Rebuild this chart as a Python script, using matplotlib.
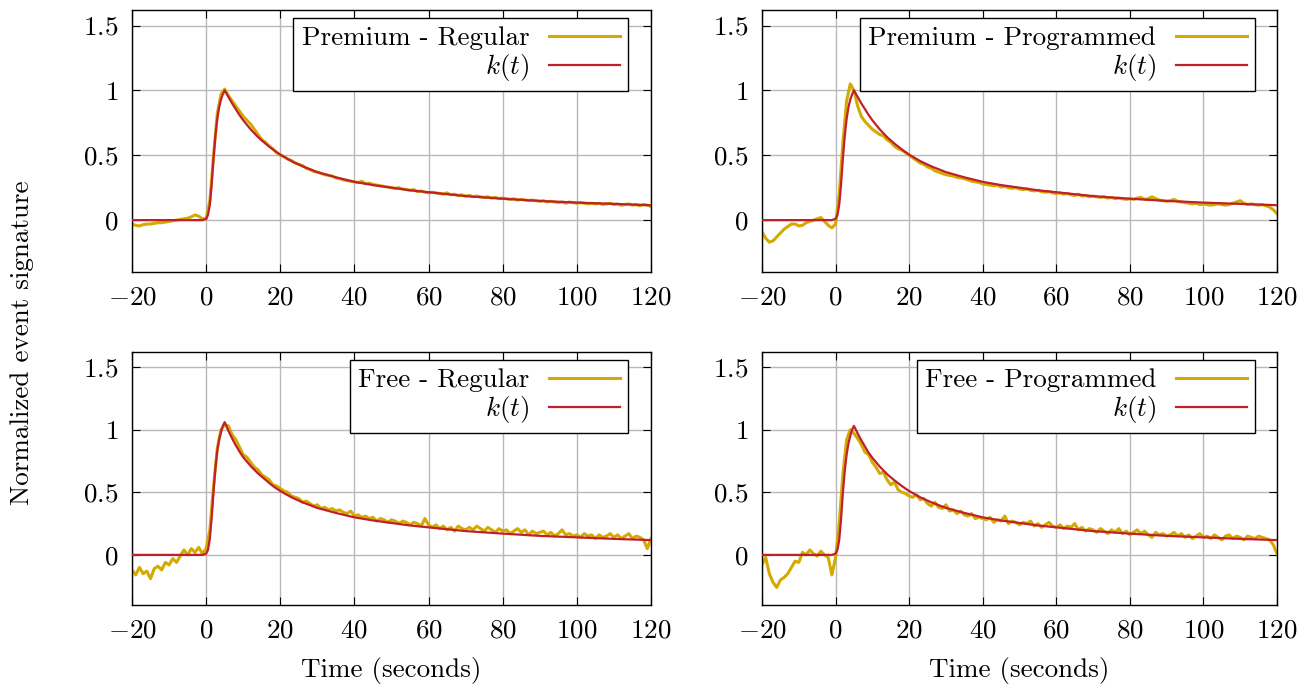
import numpy as np
import matplotlib
matplotlib.use("Agg")
import matplotlib.pyplot as plt

plt.rcParams['font.family'] = 'serif'
plt.rcParams['font.serif'] = ['cmr10']
plt.rcParams['mathtext.fontset'] = 'cm'
plt.rcParams['axes.formatter.use_mathtext'] = True

YELLOW = '#d4aa00'
RED = '#c0202a'

# time axis of the measured signatures (1 s steps)
t_sig = np.arange(-20, 121, 1)

sig_prem_reg = [
    -0.03, -0.04, -0.045, -0.035, -0.03, -0.03, -0.025, -0.02, -0.02, -0.015,
    -0.01, -0.005, 0.0, 0.005, 0.01, 0.015, 0.025, 0.04, 0.03, 0.01,
    0.01, 0.15, 0.5, 0.82, 0.97, 1.01, 0.96, 0.92, 0.88, 0.84,
    0.80, 0.77, 0.74, 0.70, 0.66, 0.62, 0.60, 0.57, 0.55, 0.52,
    0.50, 0.49, 0.47, 0.46, 0.44, 0.43, 0.42, 0.40, 0.39, 0.375,
    0.37, 0.36, 0.35, 0.345, 0.34, 0.325, 0.32, 0.31, 0.305, 0.30,
    0.295, 0.29, 0.30, 0.28, 0.285, 0.275, 0.27, 0.265, 0.26, 0.255,
    0.25, 0.245, 0.25, 0.24, 0.235, 0.23, 0.235, 0.22, 0.225, 0.215,
    0.21, 0.215, 0.21, 0.205, 0.20, 0.21, 0.195, 0.20, 0.19, 0.195,
    0.185, 0.19, 0.18, 0.185, 0.18, 0.175, 0.18, 0.17, 0.175, 0.165,
    0.17, 0.165, 0.16, 0.165, 0.155, 0.16, 0.155, 0.15, 0.155, 0.15,
    0.145, 0.15, 0.14, 0.145, 0.14, 0.135, 0.14, 0.13, 0.14, 0.135,
    0.13, 0.135, 0.13, 0.125, 0.13, 0.125, 0.13, 0.12, 0.125, 0.13,
    0.12, 0.125, 0.115, 0.12, 0.125, 0.115, 0.12, 0.11, 0.12, 0.115,
    0.105,
]

sig_prem_prog = [
    -0.09, -0.14, -0.17, -0.16, -0.13, -0.10, -0.07, -0.05, -0.03, -0.03,
    -0.045, -0.04, -0.02, -0.01, 0.0, 0.01, 0.02, -0.01, -0.04, -0.06,
    -0.03, 0.20, 0.60, 0.92, 1.05, 1.0, 0.88, 0.80, 0.76, 0.73,
    0.70, 0.68, 0.66, 0.65, 0.62, 0.60, 0.57, 0.55, 0.54, 0.52,
    0.50, 0.48, 0.46, 0.44, 0.43, 0.41, 0.40, 0.38, 0.37, 0.36,
    0.35, 0.345, 0.34, 0.33, 0.325, 0.32, 0.31, 0.30, 0.295, 0.29,
    0.28, 0.275, 0.27, 0.265, 0.27, 0.255, 0.26, 0.25, 0.245, 0.25,
    0.24, 0.235, 0.24, 0.23, 0.225, 0.23, 0.22, 0.215, 0.22, 0.21,
    0.205, 0.21, 0.20, 0.205, 0.195, 0.19, 0.20, 0.185, 0.19, 0.18,
    0.185, 0.18, 0.175, 0.18, 0.17, 0.175, 0.165, 0.17, 0.165, 0.16,
    0.165, 0.16, 0.17, 0.175, 0.16, 0.165, 0.18, 0.165, 0.155, 0.15,
    0.145, 0.15, 0.16, 0.145, 0.14, 0.135, 0.13, 0.125, 0.13, 0.12,
    0.125, 0.12, 0.115, 0.12, 0.125, 0.12, 0.115, 0.12, 0.13, 0.14,
    0.15, 0.13, 0.12, 0.125, 0.12, 0.115, 0.12, 0.11, 0.10, 0.08,
    0.05,
]

sig_free_reg = [
    -0.12, -0.16, -0.10, -0.15, -0.13, -0.19, -0.11, -0.09, -0.12, -0.06,
    -0.08, -0.03, -0.06, -0.01, 0.04, 0.0, 0.05, 0.02, 0.06, 0.01,
    0.05, 0.20, 0.55, 0.85, 1.0, 1.04, 1.03, 0.96, 0.92, 0.86,
    0.80, 0.78, 0.74, 0.70, 0.68, 0.64, 0.62, 0.60, 0.56, 0.55,
    0.53, 0.51, 0.50, 0.47, 0.46, 0.45, 0.42, 0.43, 0.41, 0.39,
    0.40, 0.37, 0.38, 0.36, 0.37, 0.35, 0.36, 0.34, 0.33, 0.35,
    0.31, 0.32, 0.30, 0.31, 0.29, 0.30, 0.27, 0.29, 0.28, 0.26,
    0.28, 0.27, 0.25, 0.27, 0.26, 0.24, 0.26, 0.25, 0.23, 0.29,
    0.24, 0.22, 0.24, 0.21, 0.23, 0.20, 0.22, 0.19, 0.23, 0.21,
    0.20, 0.22, 0.20, 0.23, 0.21, 0.19, 0.22, 0.20, 0.18, 0.21,
    0.19, 0.20, 0.17, 0.19, 0.21, 0.18, 0.20, 0.16, 0.19, 0.17,
    0.18, 0.19, 0.16, 0.18, 0.15, 0.17, 0.20, 0.16, 0.17, 0.15,
    0.16, 0.14, 0.17, 0.15, 0.16, 0.13, 0.16, 0.14, 0.15, 0.17,
    0.14, 0.16, 0.13, 0.15, 0.17, 0.13, 0.15, 0.14, 0.12, 0.05,
    0.13,
]

sig_free_prog = [
    -0.08, -0.02, -0.15, -0.22, -0.26, -0.20, -0.18, -0.15, -0.10, -0.05,
    -0.06, 0.02, 0.0, 0.04, 0.01, -0.01, 0.03, 0.0, -0.02, -0.16,
    -0.02, 0.25, 0.65, 0.92, 1.0, 0.97, 0.93, 0.88, 0.82, 0.80,
    0.74, 0.70, 0.65, 0.66, 0.60, 0.56, 0.58, 0.52, 0.50, 0.49,
    0.47, 0.46, 0.48, 0.44, 0.45, 0.41, 0.39, 0.42, 0.38, 0.37,
    0.40, 0.35, 0.36, 0.33, 0.35, 0.32, 0.31, 0.33, 0.29, 0.30,
    0.29, 0.28, 0.30, 0.26, 0.28, 0.27, 0.31, 0.25, 0.27, 0.26,
    0.24, 0.26, 0.25, 0.27, 0.23, 0.25, 0.22, 0.24, 0.26, 0.23,
    0.22, 0.24, 0.21, 0.23, 0.22, 0.25, 0.20, 0.22, 0.19, 0.21,
    0.20, 0.18, 0.21, 0.19, 0.17, 0.20, 0.18, 0.21, 0.17, 0.19,
    0.16, 0.18, 0.20, 0.17, 0.19, 0.16, 0.14, 0.18, 0.16, 0.17,
    0.15, 0.16, 0.18, 0.15, 0.17, 0.14, 0.16, 0.13, 0.15, 0.17,
    0.14, 0.15, 0.13, 0.16, 0.14, 0.12, 0.15, 0.16, 0.13, 0.15,
    0.14, 0.12, 0.15, 0.14, 0.13, 0.15, 0.14, 0.13, 0.12, 0.08,
    0.01,
]

# fitted kernel k(t), read at these times
t_k = [-20, -1, 0, 0.5, 1, 1.5, 2, 2.5, 3, 3.5, 4, 4.5, 5, 6, 7, 8, 9, 10,
       12, 14, 16, 18, 20, 23, 26, 30, 35, 40, 45, 50, 55, 60, 70, 80, 90,
       100, 110, 120]
k_prem_reg = [0, 0, 0.01, 0.04, 0.12, 0.28, 0.48, 0.65, 0.78, 0.87, 0.93, 0.97,
              1.0, 0.95, 0.90, 0.855, 0.81, 0.77, 0.70, 0.64, 0.59, 0.545,
              0.505, 0.455, 0.415, 0.37, 0.33, 0.295, 0.27, 0.25, 0.23, 0.215,
              0.185, 0.165, 0.148, 0.135, 0.125, 0.115]
k_prem_prog = [0, 0, 0.01, 0.04, 0.12, 0.28, 0.48, 0.65, 0.78, 0.87, 0.93, 0.97,
               1.0, 0.95, 0.90, 0.855, 0.81, 0.77, 0.70, 0.64, 0.59, 0.545,
               0.505, 0.455, 0.415, 0.37, 0.33, 0.295, 0.27, 0.25, 0.23, 0.215,
               0.185, 0.165, 0.148, 0.135, 0.125, 0.115]
k_free_reg = [0, 0, 0.01, 0.04, 0.13, 0.30, 0.51, 0.69, 0.83, 0.92, 0.98, 1.03,
              1.06, 0.99, 0.93, 0.875, 0.825, 0.78, 0.71, 0.65, 0.60, 0.55,
              0.51, 0.46, 0.42, 0.375, 0.335, 0.30, 0.275, 0.255, 0.235, 0.22,
              0.19, 0.17, 0.152, 0.14, 0.128, 0.118]
k_free_prog = [0, 0, 0.01, 0.04, 0.12, 0.29, 0.50, 0.67, 0.80, 0.89, 0.95, 1.0,
               1.03, 0.97, 0.915, 0.865, 0.815, 0.775, 0.705, 0.645, 0.595, 0.55,
               0.51, 0.46, 0.42, 0.375, 0.335, 0.30, 0.275, 0.255, 0.235, 0.22,
               0.19, 0.17, 0.152, 0.14, 0.128, 0.118]

labels = ["Premium - Regular", "Premium - Programmed", "Free - Regular", "Free - Programmed"]
signals = [sig_prem_reg, sig_prem_prog, sig_free_reg, sig_free_prog]
kernels = [k_prem_reg, k_prem_prog, k_free_reg, k_free_prog]

x_ticks = [-20, 0, 20, 40, 60, 80, 100, 120]
y_ticks = [0, 0.5, 1, 1.5]
y_ticklabels = ['$0$', '$0.5$', '$1$', '$1.5$']

FS = 19.5

fig = plt.figure(figsize=(13.13, 6.92), dpi=100)
W, H = 1313, 692
boxes = [(132, 10, 651, 272), (762, 10, 1277, 272),
         (132, 352, 651, 605), (762, 352, 1277, 605)]
legend_right = [628, 1255, 628, 1255]

for i, (x0, y0, x1, y1) in enumerate(boxes):
    ax = fig.add_axes([x0 / W, 1 - y1 / H, (x1 - x0) / W, (y1 - y0) / H])
    ax.plot(t_sig, signals[i], color=YELLOW, lw=2.2, label=labels[i], zorder=2)
    ax.plot(t_k, kernels[i], color=RED, lw=1.6, label='$k(t)$', zorder=3)
    ax.set_xlim(-20, 120)
    ax.set_ylim(-0.4, 1.62)
    ax.set_xticks(x_ticks)
    ax.set_xticklabels(['$%d$' % v for v in x_ticks])
    ax.set_yticks(y_ticks)
    ax.set_yticklabels(y_ticklabels)
    ax.tick_params(direction='in', top=True, right=True, length=6, width=0.8,
                   labelsize=FS, pad=10, color='black')
    ax.grid(True, color='#b8b8b8', lw=1.0)
    ax.set_axisbelow(True)
    for s in ax.spines.values():
        s.set_linewidth(1.0)
    bx = (legend_right[i] - x0) / (x1 - x0)
    by = (y1 - (y0 + 8)) / (y1 - y0)
    leg = ax.legend(loc='upper right', bbox_to_anchor=(bx, by), borderaxespad=0,
                    markerfirst=False, fontsize=FS, handlelength=2.6,
                    handletextpad=0.75, labelspacing=0.08, borderpad=0.3,
                    fancybox=False, framealpha=1, edgecolor='black')
    leg.get_frame().set_linewidth(1.0)
    if i >= 2:
        ax.set_xlabel('Time (seconds)', fontsize=FS, labelpad=10)

fig.text(0.017, 0.504, 'Normalized event signature', rotation=90,
         ha='center', va='center', fontsize=FS)

fig.savefig('out.png', dpi=100)
